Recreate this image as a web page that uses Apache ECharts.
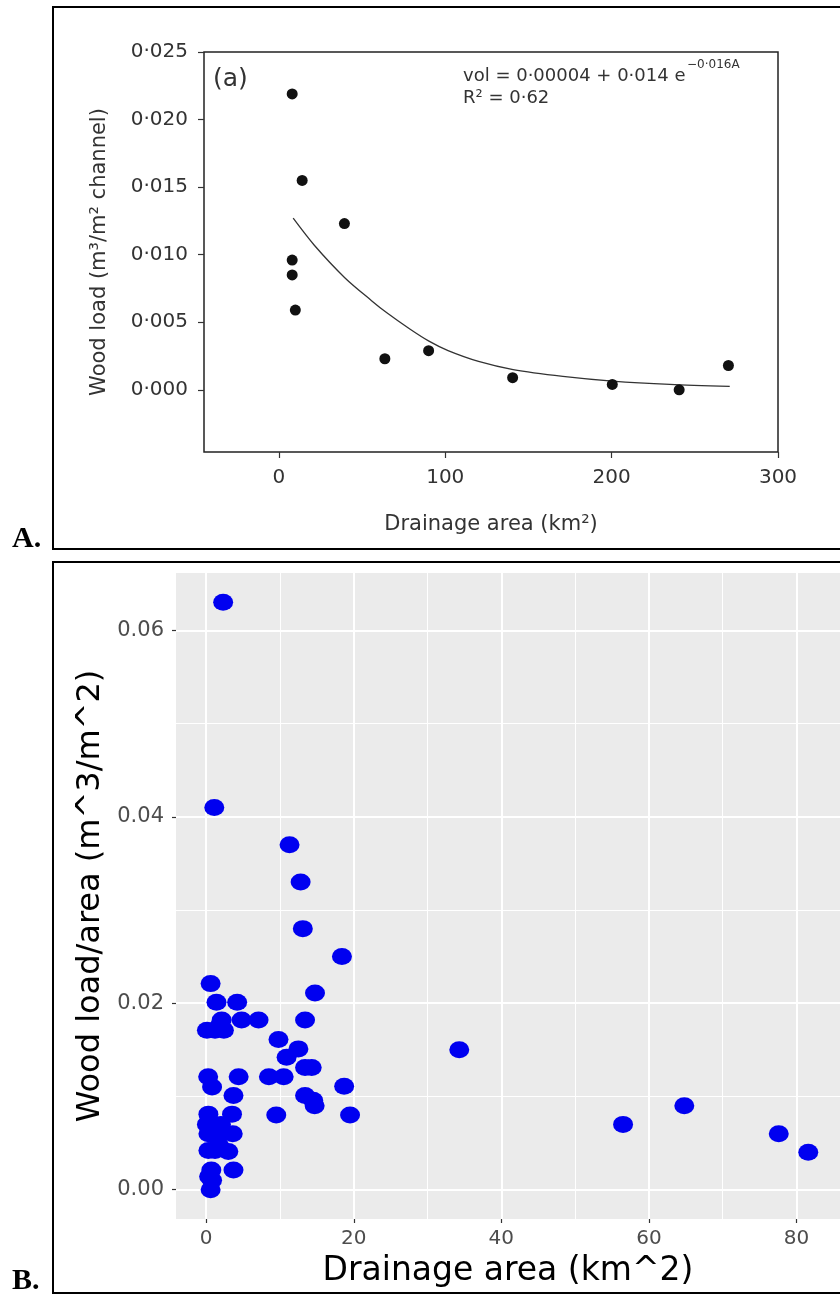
<!DOCTYPE html>
<html><head><meta charset="utf-8">
<script src="https://cdn.jsdelivr.net/npm/echarts@6/dist/echarts.min.js"></script>
<style>html,body{margin:0;padding:0;background:#fff}#c{width:840px;height:1294px}</style>
</head><body><div id="c"></div>
<script>
// ---- Panel A data ----
const aArea = [8, 14, 39.4, 8, 8, 9.9, 63.7, 90, 140.5, 200.4, 240.6, 270.2];
const aLoad = [0.0219, 0.0155, 0.0123, 0.0096, 0.0085, 0.0059, 0.0023, 0.0029, 0.0009, 0.0004, 0.0000, 0.0018];
const aCurveArea = [8.6, 21.3, 39.6, 55.7, 64.9, 78.7, 90.2, 101.7, 120, 140.8, 170.7, 200.5, 235, 271];
const aCurveLoad = [0.0127, 0.0107, 0.0083, 0.0066, 0.0057, 0.0045, 0.0036, 0.0029, 0.0021, 0.0015, 0.0010, 0.00065, 0.0004, 0.00025];
const aXTicks = [0, 100, 200, 300];
const aYTicks = [0, 0.005, 0.010, 0.015, 0.020, 0.025];

// ---- Panel B data ----
const bArea = [2.3, 1.1, 11.3, 12.8, 13.1, 18.4,
  0.6, 14.75, 1.4, 4.2,
  2.1, 4.8, 7.1, 13.4,
  0.1, 1.2, 2.4, 1.9,
  9.8, 12.5, 10.9, 13.4, 14.3,
  34.3,
  0.27, 0.8, 4.4, 8.5, 10.5, 18.7,
  3.7, 13.4, 14.5, 14.7, 9.5, 19.5,
  0.3, 3.5, 0.1, 2.0, 0.3, 2.0, 3.6, 1.7, 0.3, 3.0, 1.2, 0.7, 3.7, 0.4, 0.8, 0.6,
  56.5, 64.8, 77.6, 81.6];
const bLoad = [0.063, 0.041, 0.037, 0.033, 0.028, 0.025,
  0.0221, 0.0211, 0.0201, 0.0201,
  0.0182, 0.0182, 0.0182, 0.0182,
  0.0171, 0.0171, 0.0171, 0.0177,
  0.0161, 0.0151, 0.0142, 0.0131, 0.0131,
  0.015,
  0.0121, 0.011, 0.0121, 0.0121, 0.0121, 0.0111,
  0.0101, 0.0101, 0.0096, 0.009, 0.008, 0.008,
  0.0081, 0.0081, 0.007, 0.007, 0.006, 0.006, 0.006, 0.0048, 0.0042, 0.0041, 0.0042, 0.0021, 0.0021, 0.0014, 0.001, 0.0,
  0.007, 0.009, 0.006, 0.004];
const bXTicks = [0, 20, 40, 60, 80];
const bXMinor = [10, 30, 50, 70];
const bYTicks = [0, 0.02, 0.04, 0.06];
const bYMinor = [0.01, 0.03, 0.05];

const zip = (xs, ys) => xs.map((x, i) => [x, ys[i]]);
const FONT = 'DejaVu Sans';

const gridLines = [
  ...bXTicks.map(v => ({ xAxis: v, lineStyle: { width: 2 } })),
  ...bXMinor.map(v => ({ xAxis: v, lineStyle: { width: 1 } })),
  ...bYTicks.map(v => ({ yAxis: v, lineStyle: { width: 2 } })),
  ...bYMinor.map(v => ({ yAxis: v, lineStyle: { width: 1 } }))
];

const chart = echarts.init(document.getElementById('c'));
chart.setOption({
  animation: false,
  backgroundColor: '#fff',
  grid: [
    { left: 204, top: 52, width: 574, height: 400, show: true, borderColor: '#222', borderWidth: 1.5, backgroundColor: 'transparent', containLabel: false },
    { left: 176, top: 573, right: 0, bottom: 75, show: true, borderWidth: 0, backgroundColor: '#EBEBEB', containLabel: false }
  ],
  xAxis: [
    { gridIndex: 0, type: 'value', min: -45, max: 300,
      axisLine: { show: false, onZero: false }, splitLine: { show: false },
      axisTick: { show: true, customValues: aXTicks, length: 6, lineStyle: { color: '#333', width: 1.2 } },
      axisLabel: { customValues: aXTicks, margin: 16, fontSize: 20, color: '#333', fontFamily: FONT },
      name: 'Drainage area (km²)', nameLocation: 'middle', nameGap: 62,
      nameTextStyle: { fontSize: 21, color: '#333', fontFamily: FONT } },
    { gridIndex: 1, type: 'value', min: -4.09, max: 85.9,
      axisLine: { show: false, onZero: false }, splitLine: { show: false },
      axisTick: { show: true, customValues: bXTicks, length: 4, lineStyle: { color: '#333', width: 1.2 } },
      axisLabel: { customValues: bXTicks, margin: 10, fontSize: 20, color: '#4D4D4D', fontFamily: FONT },
      name: 'Drainage area (km^2)', nameLocation: 'middle', nameGap: 36,
      nameTextStyle: { fontSize: 33, color: '#000', fontFamily: FONT } }
  ],
  yAxis: [
    { gridIndex: 0, type: 'value', min: -0.0046, max: 0.025,
      axisLine: { show: false, onZero: false }, splitLine: { show: false },
      axisTick: { show: true, customValues: aYTicks, length: 6, lineStyle: { color: '#333', width: 1.2 } },
      axisLabel: { customValues: aYTicks, margin: 16, fontSize: 20, color: '#333', fontFamily: FONT,
        formatter: v => v.toFixed(3).replace('.', '·') },
      name: 'Wood load (m³/m² channel)', nameLocation: 'middle', nameGap: 94,
      nameTextStyle: { fontSize: 21, color: '#333', fontFamily: FONT } },
    { gridIndex: 1, type: 'value', min: -0.00315, max: 0.06615,
      axisLine: { show: false, onZero: false }, splitLine: { show: false },
      axisTick: { show: true, customValues: bYTicks, length: 4, lineStyle: { color: '#333', width: 1.2 } },
      axisLabel: { customValues: bYTicks, margin: 12, fontSize: 21, color: '#4D4D4D', fontFamily: FONT,
        formatter: v => v.toFixed(2) },
      name: 'Wood load/area (m^3/m^2)', nameLocation: 'middle', nameGap: 64,
      nameTextStyle: { fontSize: 32, color: '#000', fontFamily: FONT } }
  ],
  series: [
    { type: 'line', xAxisIndex: 0, yAxisIndex: 0, data: zip(aCurveArea, aCurveLoad),
      smooth: 0.3, showSymbol: false, symbol: 'none', z: 2,
      lineStyle: { color: '#333', width: 1.3 } },
    { type: 'scatter', xAxisIndex: 0, yAxisIndex: 0, data: zip(aArea, aLoad),
      symbol: 'circle', symbolSize: 11, z: 3, itemStyle: { color: '#111', opacity: 1 } },
    { type: 'scatter', xAxisIndex: 1, yAxisIndex: 1, data: zip(bArea, bLoad),
      symbol: 'circle', symbolSize: [20, 17], z: 3, itemStyle: { color: '#0000F0', opacity: 1 },
      markLine: { z: 1, silent: true, symbol: ['none', 'none'], label: { show: false },
        lineStyle: { color: '#ffffff', type: 'solid' }, data: gridLines, animation: false } }
  ],
  graphic: [
    { type: 'rect', shape: { x: 53, y: 7, width: 820, height: 542 }, style: { fill: 'none', stroke: '#000', lineWidth: 2 }, silent: true, z: 10 },
    { type: 'rect', shape: { x: 53, y: 562, width: 820, height: 731 }, style: { fill: 'none', stroke: '#000', lineWidth: 2 }, silent: true, z: 10 },
    { type: 'text', left: 12, top: 524, style: { text: 'A.', font: 'bold 30px "Liberation Serif"', fill: '#000' }, z: 10 },
    { type: 'text', left: 12, top: 1266, style: { text: 'B.', font: 'bold 30px "Liberation Serif"', fill: '#000' }, z: 10 },
    { type: 'text', x: 213, y: 79, style: { text: '(a)', font: '25px "DejaVu Sans"', fill: '#333', verticalAlign: 'middle' }, z: 10 },
    { type: 'text', x: 463, y: 76, style: { text: 'vol = 0·00004 + 0·014 e', font: '18px "DejaVu Sans"', fill: '#333', verticalAlign: 'middle' }, z: 10 },
    { type: 'text', x: 687, y: 65, style: { text: '−0·016A', font: '12px "DejaVu Sans"', fill: '#333', verticalAlign: 'middle' }, z: 10 },
    { type: 'text', x: 463, y: 98, style: { text: 'R² = 0·62', font: '18px "DejaVu Sans"', fill: '#333', verticalAlign: 'middle' }, z: 10 }
  ]
});
</script>
</body></html>
